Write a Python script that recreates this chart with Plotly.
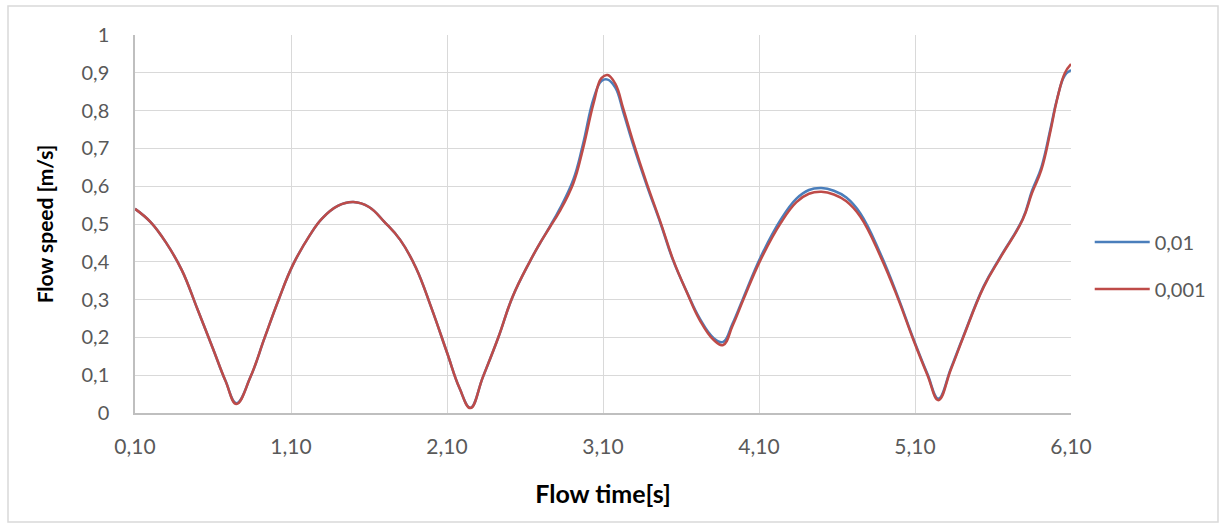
import plotly.graph_objects as go

# Flow time samples [s]
time_s = [0.10, 0.20, 0.30, 0.40, 0.50, 0.60, 0.68, 0.75, 0.84, 0.93,
          1.02, 1.11, 1.22, 1.30, 1.40, 1.50, 1.60, 1.70, 1.80, 1.90,
          2.00, 2.10, 2.18, 2.25, 2.33, 2.43, 2.52, 2.63, 2.70, 2.76,
          2.82, 2.91, 2.97, 3.04, 3.09, 3.13, 3.18, 3.23, 3.29, 3.38,
          3.47, 3.55, 3.64, 3.72, 3.81, 3.87, 3.93, 4.00, 4.11, 4.24,
          4.34, 4.42, 4.50, 4.58, 4.66, 4.75, 4.88, 4.99, 5.09, 5.18,
          5.25, 5.33, 5.41, 5.54, 5.65, 5.79, 5.85, 5.91, 5.97, 6.01,
          6.06, 6.10]

# Flow speed [m/s], time step 0.01
speed_001 = [0.540, 0.505, 0.450, 0.378, 0.275, 0.170, 0.085, 0.026, 0.095, 0.198,
             0.299, 0.390, 0.470, 0.515, 0.548, 0.558, 0.545, 0.505, 0.458, 0.385,
             0.278, 0.160, 0.066, 0.014, 0.095, 0.201, 0.307, 0.400, 0.452, 0.494,
             0.538, 0.618, 0.708, 0.832, 0.878, 0.882, 0.860, 0.796, 0.714, 0.603,
             0.500, 0.403, 0.318, 0.250, 0.198, 0.188, 0.236, 0.305, 0.412, 0.512,
             0.567, 0.590, 0.595, 0.588, 0.570, 0.528, 0.420, 0.308, 0.196, 0.103,
             0.038, 0.118, 0.203, 0.335, 0.415, 0.513, 0.588, 0.650, 0.755, 0.830,
             0.893, 0.907]

# Flow speed [m/s], time step 0.001
speed_0001 = [0.540, 0.505, 0.450, 0.378, 0.275, 0.170, 0.085, 0.024, 0.095, 0.198,
              0.299, 0.390, 0.470, 0.515, 0.548, 0.558, 0.545, 0.505, 0.458, 0.385,
              0.278, 0.160, 0.066, 0.013, 0.095, 0.201, 0.307, 0.400, 0.452, 0.492,
              0.532, 0.608, 0.696, 0.820, 0.886, 0.894, 0.870, 0.805, 0.722, 0.608,
              0.503, 0.405, 0.317, 0.246, 0.193, 0.180, 0.230, 0.300, 0.405, 0.503,
              0.558, 0.580, 0.585, 0.578, 0.560, 0.519, 0.413, 0.304, 0.193, 0.100,
              0.034, 0.115, 0.201, 0.333, 0.413, 0.511, 0.582, 0.643, 0.749, 0.828,
              0.899, 0.923]

x_ticks = [0.10, 1.10, 2.10, 3.10, 4.10, 5.10, 6.10]
x_tick_labels = ["0,10", "1,10", "2,10", "3,10", "4,10", "5,10", "6,10"]
y_ticks = [0, 0.1, 0.2, 0.3, 0.4, 0.5, 0.6, 0.7, 0.8, 0.9, 1.0]
y_tick_labels = ["0", "0,1", "0,2", "0,3", "0,4", "0,5", "0,6", "0,7", "0,8", "0,9", "1"]

FONT = "Lato"
GRID = "#d9d9d9"
TICK_COLOR = "#595959"

fig = go.Figure()
fig.add_trace(go.Scatter(
    x=time_s, y=speed_001, name="0,01", mode="lines",
    line=dict(color="#4a7ebb", width=2.5, shape="spline", smoothing=1.2),
    legendgroup="a",
))
fig.add_trace(go.Scatter(
    x=time_s, y=speed_0001, name="0,001", mode="lines",
    line=dict(color="#be4b48", width=2.5, shape="spline", smoothing=1.2),
    legendgroup="b",
))

fig.update_layout(
    width=1224, height=529,
    margin=dict(l=135, r=153, t=35, b=116),
    paper_bgcolor="white", plot_bgcolor="white",
    font=dict(family=FONT, size=20, color=TICK_COLOR),
    legend=dict(
        x=1.02, xanchor="left", y=0.39, yanchor="middle",
        font=dict(family=FONT, size=20, color=TICK_COLOR),
        itemwidth=55, tracegroupgap=18, bgcolor="rgba(0,0,0,0)",
    ),
    xaxis=dict(
        range=[0.10, 6.10], tickvals=x_ticks, ticktext=x_tick_labels,
        showgrid=True, gridcolor=GRID, gridwidth=1,
        showline=True, linecolor="#bfbfbf", linewidth=1.5,
        zeroline=False, ticks="", ticklabelstandoff=14,
        tickfont=dict(family=FONT, size=21, color=TICK_COLOR),
        title=dict(text="<b>Flow time[s]</b>", standoff=29,
                   font=dict(family=FONT, size=25, color="black")),
    ),
    yaxis=dict(
        range=[0, 1.0], tickvals=y_ticks, ticktext=y_tick_labels,
        showgrid=True, gridcolor=GRID, gridwidth=1,
        showline=True, linecolor="#bfbfbf", linewidth=1.5,
        zeroline=False, ticks="", ticklabelstandoff=20,
        tickfont=dict(family=FONT, size=20, color=TICK_COLOR),
        title=dict(text="<b>Flow speed [m/s]</b>", standoff=22,
                   font=dict(family=FONT, size=21, color="black")),
    ),
    shapes=[dict(
        type="rect", xref="paper", yref="paper",
        x0=(8 - 135) / 936, x1=(1218 - 135) / 936,
        y0=(413 - 522) / 378, y1=(413 - 6) / 378,
        line=dict(color="#d9d9d9", width=1.5), fillcolor="rgba(0,0,0,0)",
        layer="below",
    )],
)

fig.write_html("out.html")
